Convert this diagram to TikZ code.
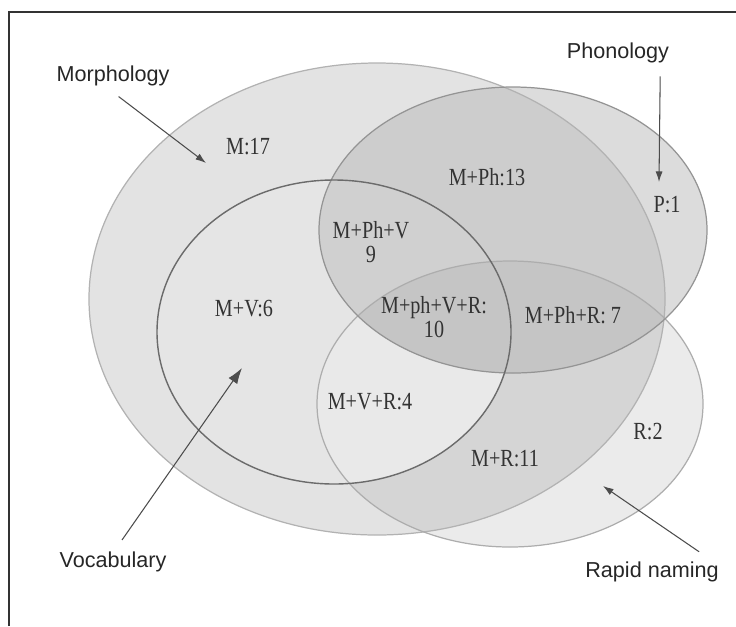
\documentclass[tikz,border=0pt]{standalone}
\usepackage{fontspec}
\setmainfont{Liberation Sans}
\newfontfamily\cellfont[FakeStretch=0.82]{Liberation Serif}
\usetikzlibrary{arrows.meta,positioning}

\definecolor{mfill}{gray}{0.89}
\definecolor{rfill}{gray}{0.92}
\definecolor{mrfill}{gray}{0.835}
\definecolor{vfill}{gray}{0.90}
\definecolor{vrfill}{gray}{0.913}
\definecolor{pfill}{gray}{0.863}
\definecolor{mpfill}{gray}{0.804}
\definecolor{mpvfill}{gray}{0.816}
\definecolor{prfill}{gray}{0.80}
\definecolor{mprfill}{gray}{0.772}

\begin{document}
\begin{tikzpicture}[x=0.02cm, y=-0.02cm,
    label/.style={font=\fontsize{12.3}{14}\selectfont, text=black!85},
    cell/.style={font=\cellfont\fontsize{14}{14}\selectfont, text=black!80, align=center},
    pointer/.style={-{Latex[length=6pt,width=4pt]}, black!70, line width=0.6pt}]
    \useasboundingbox (0,0) rectangle (736,626);
    \def\shapeM{(377,299) ellipse [x radius=288, y radius=236]}
    \def\shapeP{(513,230) ellipse [x radius=194, y radius=143]}
    \def\shapeV{(334,332) ellipse [x radius=177, y radius=152]}
    \def\shapeR{(510,404) ellipse [x radius=193, y radius=143]}

    % Frame
    \draw [black!80, line width=1pt] (9,626) -- (9,12) -- (736,12);

    % Morphology and Rapid naming
    \fill [rfill] \shapeR;
    \fill [mfill] \shapeM;
    \begin{scope}
        \clip \shapeM;
        \fill [mrfill] \shapeR;
    \end{scope}

    % Vocabulary
    \fill [vfill] \shapeV;
    \begin{scope}
        \clip \shapeV;
        \fill [vrfill] \shapeR;
    \end{scope}

    % Phonology
    \fill [pfill] \shapeP;
    \begin{scope}
        \clip \shapeP;
        \fill [prfill] \shapeR;
        \clip \shapeM;
        \fill [mpfill] \shapeM;
        \fill [mpvfill] \shapeV;
        \fill [mprfill] \shapeR;
    \end{scope}

    % Outlines
    \draw [black!30, line width=0.7pt] \shapeM;
    \draw [black!32, line width=0.7pt] \shapeR;
    \draw [black!42, line width=0.7pt] \shapeP;
    \draw [black!58, line width=0.8pt] \shapeV;

    % Region counts
    \node [cell] (m) at (248,147) {M:17};
    \node [cell] (mp) at (487,177) {M+Ph:13};
    \node [cell] (p) at (667,205) {P:1};
    \node [cell] (mpv) at (371,242) {M+Ph+V\\9};
    \node [cell] (mpvr) at (434,317) {M+ph+V+R:\\10};
    \node [cell] (mv) at (244,309) {M+V:6};
    \node [cell] (mpr) at (573,315) {M+Ph+R:~7};
    \node [cell] (mvr) at (370,402) {M+V+R:4};
    \node [cell] (mr) at (505,459) {M+R:11};
    \node [cell] (r) at (648,432) {R:2};

    % Labels
    \node [label] (morph) at (113,76) {Morphology};
    \node [label] (phon) at (618,53) {Phonology};
    \node [label] (vocab) at (113,562) {Vocabulary};
    \node [label] (rapid) at (652,572) {Rapid naming};

    \coordinate (mtip) at (206,163);
    \coordinate (ptip) at (659,182);
    \coordinate (vtip) at (242,368);
    \coordinate (rtip) at (603,486);

    \draw [pointer, shorten <=4pt] (morph.south) -- (mtip);
    \draw [pointer, shorten <=4pt] ([xshift=-0.3cm]phon.south east) -- (ptip);
    \draw [pointer, -{Latex[length=9pt,width=6pt]}, shorten <=4pt] ([xshift=0.1cm]vocab.north) -- (vtip);
    \draw [pointer, shorten <=4pt] ([xshift=-0.4cm]rapid.north east) -- (rtip);
\end{tikzpicture}
\end{document}
